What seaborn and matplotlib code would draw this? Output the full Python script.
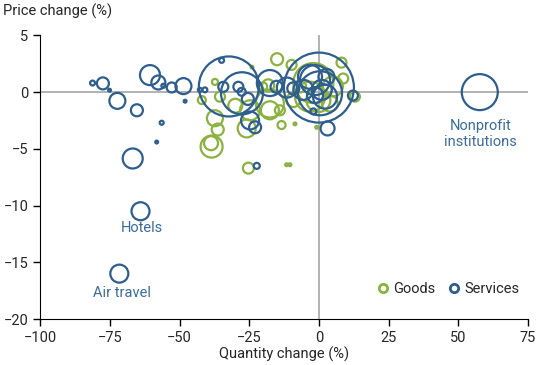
import matplotlib
matplotlib.use('Agg')
import matplotlib.pyplot as plt
from matplotlib.lines import Line2D
import seaborn as sns
import pandas as pd

# goods: quantity change, price change, bubble weight (~spending share)
goods_x = [-38.5, -38.7, -36.3, -37.3, -25.3, -25.9, -13.4, -11.6, -10.4, -8.6,
           -17.6, -14.0, -15.0, -9.8, 8.1, 8.7, -37.3, -35.5, -42.0, -24.0,
           -18.2, -17.6, -24.7, -2.0, -3.2, -0.2, 3.9, -0.8, -9.2, -6.8,
           12.9, -30.0, 5.0, -20.0]
goods_y = [-4.8, -4.5, -3.3, -2.3, -6.7, -3.2, -2.9, -6.4, -6.4, -2.8,
           -1.6, -1.6, 2.9, 2.4, 2.6, 1.2, 0.9, -0.4, -0.7, 2.2,
           0.6, -1.0, -1.6, 0.8, -0.4, -0.7, -1.0, -3.1, -0.7, 0.5,
           -0.4, -1.2, 0.5, 0.5]
goods_w = [121, 49, 36, 64, 30, 81, 16, 2, 2, 2,
           81, 25, 36, 25, 25, 25, 9, 25, 16, 2,
           36, 196, 100, 400, 225, 144, 64, 2, 49, 36,
           25, 49, 100, 16]

# services
services_x = [57.7, -64.0, -71.6, -81.2, -77.5, -75.1, -72.3, -65.3, -56.4, -58.2,
              -66.8, -60.6, -57.6, -55.8, -52.8, -48.6, -48.0, -42.7, -40.9, -34.9,
              -34.3, -32.3, -27.6, -28.9, -27.7, -24.7, -22.9, -22.3, -17.6, -11.5,
              -15.2, -9.2, -3.2, -5.6, -1.4, 1.0, 2.2, -1.4, -2.0, 2.7,
              0.4, 0.0, 3.1, 12.2, -25.5]
services_y = [0.0, -10.5, -16.0, 0.8, 0.77, 0.17, -0.77, -1.6, -2.7, -4.4,
              -5.85, 1.5, 0.85, 0.56, 0.41, 0.53, -0.8, 0.2, 0.2, 2.8,
              0.47, 0.5, -0.1, 0.47, 0.03, -2.5, -3.1, -6.5, 0.8, 0.4,
              0.47, 0.33, 1.35, 0.2, 1.06, 0.2, -0.4, -0.26, -1.7, 1.35,
              -0.1, 0.4, -3.2, -0.3, -0.6]
services_w = [324, 81, 81, 6, 36, 2, 64, 36, 4, 2,
              100, 100, 49, 4, 25, 64, 2, 4, 6, 6,
              25, 900, 441, 25, 16, 81, 36, 9, 169, 100,
              36, 36, 144, 100, 225, 100, 144, 64, 9, 64,
              484, 1225, 49, 25, 36]

labels = ['Hotels', 'Air travel', 'Nonprofit\ninstitutions']
label_x = [-63.5, -70.5, 58.0]
label_y = [-12.0, -17.7, -3.7]

GREEN = '#8BB23F'
BLUE = '#2D5E8E'
TEXT_BLUE = '#3C6C9C'
FS = 10.5

goods = pd.DataFrame({'qty': goods_x, 'price': goods_y, 'w': goods_w})
services = pd.DataFrame({'qty': services_x, 'price': services_y, 'w': services_w})

sns.set_style('ticks')
plt.rcParams['font.family'] = ['Roboto', 'DejaVu Sans']

fig = plt.figure(figsize=(5.5, 3.65), dpi=100)
ax = fig.add_axes([0.073, 0.126, 0.887, 0.777])

ax.axhline(0, color='#A6A6A6', lw=1.2, zorder=0)
ax.axvline(0, color='#A6A6A6', lw=1.2, zorder=0)

# area ~ weight; radius in px -> s in pt^2 is about 2.07 * r^2
for df, col in [(goods, GREEN), (services, BLUE)]:
    sns.scatterplot(data=df, x='qty', y='price', size='w', sizes=(0, 2540),
                    size_norm=(0, 1225), ax=ax, legend=False,
                    facecolor='none', edgecolor=col, linewidth=1.6)

for t, lx, ly in zip(labels, label_x, label_y):
    ax.text(lx, ly, t, color=TEXT_BLUE, fontsize=FS, ha='center', va='center',
            linespacing=1.15)

ax.set_xlim(-100, 75)
ax.set_ylim(-20, 5)
ax.set_xticks([-100, -75, -50, -25, 0, 25, 50, 75])
ax.set_yticks([5, 0, -5, -10, -15, -20])
ax.tick_params(labelsize=FS, length=5, width=1, color='black')
sns.despine(ax=ax)
ax.spines['left'].set_color('black')
ax.spines['bottom'].set_color('black')

ax.set_xlabel('Quantity change (%)', fontsize=FS, labelpad=1)
ax.set_ylabel('')
fig.text(0.005, 0.99, 'Price change (%)', fontsize=FS, ha='left', va='top')

handles = [Line2D([], [], marker='o', ls='', ms=6, mfc='none', mec=GREEN, mew=2),
           Line2D([], [], marker='o', ls='', ms=6, mfc='none', mec=BLUE, mew=2)]
ax.legend(handles, ['Goods', 'Services'], ncol=2, frameon=False, loc='lower right',
          handletextpad=0.1, columnspacing=0.7, fontsize=FS, borderaxespad=0.2,
          handlelength=1.2, bbox_to_anchor=(1.0, 0.05))

fig.savefig('out.png', dpi=100)
